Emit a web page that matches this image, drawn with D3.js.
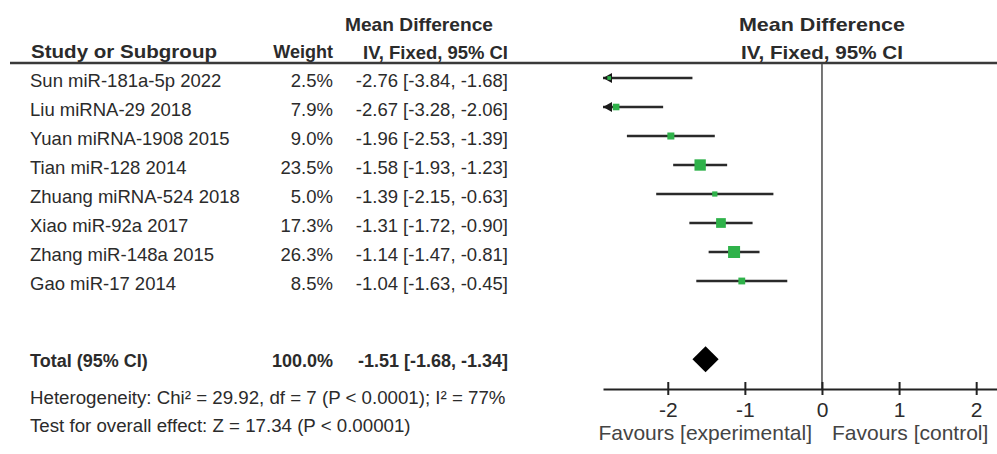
<!DOCTYPE html>
<html>
<head>
<meta charset="utf-8">
<script src="https://cdn.jsdelivr.net/npm/d3@7"></script>
<style>
  body { margin: 0; background: #fff; }
  text { font-family: "Liberation Sans", Arial, sans-serif; fill: #2b2b2b; }
</style>
</head>
<body>
<script>
// study data
var studies = ["Sun miR-181a-5p 2022", "Liu miRNA-29 2018", "Yuan miRNA-1908 2015", "Tian miR-128 2014",
               "Zhuang miRNA-524 2018", "Xiao miR-92a 2017", "Zhang miR-148a 2015", "Gao miR-17 2014"];
var weights = [2.5, 7.9, 9.0, 23.5, 5.0, 17.3, 26.3, 8.5];
var meanDiff = [-2.76, -2.67, -1.96, -1.58, -1.39, -1.31, -1.14, -1.04];
var lower = [-3.84, -3.28, -2.53, -1.93, -2.15, -1.72, -1.47, -1.63];
var upper = [-1.68, -2.06, -1.39, -1.23, -0.63, -0.90, -0.81, -0.45];
var totalEst = [-1.51, -1.68, -1.34]; // md, lower, upper
var xTicks = [-2, -1, 0, 1, 2];

var width = 997, height = 454;

var svg = d3.select("body").append("svg")
    .attr("width", width)
    .attr("height", height);

// scales
var x = d3.scaleLinear().domain([-2.84, 2.27]).range([603, 997]);
var y = d3.scaleLinear().domain([0, 7]).range([78, 281]);
var size = d3.scaleSqrt().domain([0, 26.3]).range([0, 12]);
var totalY = y(9.7);
var axisY = 389;

// plain hyphen, not the unicode minus d3.format gives
function fmt(v) { return v.toFixed(2); }

// headers
var head = svg.append("g").style("font-weight", "bold").style("font-size", "19px");
head.append("text").attr("x", 31).attr("y", 58)
    .attr("textLength", 186).attr("lengthAdjust", "spacingAndGlyphs").text("Study or Subgroup");
head.append("text").attr("x", 333).attr("y", 58).attr("text-anchor", "end")
    .style("font-size", "18px").text("Weight");
head.append("text").attr("x", 345).attr("y", 31)
    .attr("textLength", 148).attr("lengthAdjust", "spacingAndGlyphs").text("Mean Difference");
head.append("text").attr("x", 363).attr("y", 59)
    .attr("textLength", 145).attr("lengthAdjust", "spacingAndGlyphs").text("IV, Fixed, 95% CI");
head.append("text").attr("x", x(0) - 83).attr("y", 31)
    .attr("textLength", 166).attr("lengthAdjust", "spacingAndGlyphs").text("Mean Difference");
head.append("text").attr("x", x(0) - 81).attr("y", 59)
    .attr("textLength", 162).attr("lengthAdjust", "spacingAndGlyphs").text("IV, Fixed, 95% CI");

svg.append("line")
    .attr("x1", 10).attr("x2", width)
    .attr("y1", 63).attr("y2", 63)
    .attr("stroke", "#3a3a3a").attr("stroke-width", 2.5);

// zero line
svg.append("line")
    .attr("x1", x(0)).attr("x2", x(0))
    .attr("y1", 64).attr("y2", axisY)
    .attr("stroke", "#555").attr("stroke-width", 1.6);

// study rows text
var rows = svg.selectAll("g.row")
  .data(studies)
  .enter()
    .append("g")
    .attr("class", "row")
    .style("font-size", "18.5px");

rows.append("text")
    .attr("x", 30)
    .attr("y", function(d, i) { return y(i) + 9; })
    .text(function(d) { return d; });
rows.append("text")
    .attr("x", 333).attr("text-anchor", "end")
    .attr("y", function(d, i) { return y(i) + 9; })
    .text(function(d, i) { return weights[i].toFixed(1) + "%"; });
rows.append("text")
    .attr("x", 508).attr("text-anchor", "end")
    .attr("y", function(d, i) { return y(i) + 9; })
    .text(function(d, i) { return fmt(meanDiff[i]) + " [" + fmt(lower[i]) + ", " + fmt(upper[i]) + "]"; });

// CI lines
var xMin = x.domain()[0];
rows.append("line")
    .attr("x1", function(d, i) { return x(Math.max(lower[i], xMin)); })
    .attr("x2", function(d, i) { return x(upper[i]); })
    .attr("y1", function(d, i) { return y(i); })
    .attr("y2", function(d, i) { return y(i); })
    .attr("stroke", "#2a2a2a").attr("stroke-width", 2.5);

// arrows where the CI runs off the axis
rows.filter(function(d, i) { return lower[i] < xMin; })
  .append("path")
    .attr("d", function(d) {
      var i = studies.indexOf(d), x0 = x(xMin), yy = y(i);
      return "M" + x0 + "," + yy + "L" + (x0 + 9) + "," + (yy - 5) + "L" + (x0 + 9) + "," + (yy + 5) + "Z";
    })
    .attr("fill", "#1a1a1a");

// weight squares
rows.append("rect")
    .attr("x", function(d, i) { return x(meanDiff[i]) - size(weights[i]) / 2; })
    .attr("y", function(d, i) { return y(i) - size(weights[i]) / 2; })
    .attr("width", function(d, i) { return size(weights[i]); })
    .attr("height", function(d, i) { return size(weights[i]); })
    .attr("fill", "#2fb24a");

// total row
var tot = svg.append("g").style("font-weight", "bold").style("font-size", "18px");
tot.append("text").attr("x", 30).attr("y", totalY + 8).text("Total (95% CI)");
tot.append("text").attr("x", 333).attr("y", totalY + 8).attr("text-anchor", "end").text("100.0%");
tot.append("text").attr("x", 508).attr("y", totalY + 8).attr("text-anchor", "end")
    .text(fmt(totalEst[0]) + " [" + fmt(totalEst[1]) + ", " + fmt(totalEst[2]) + "]");

svg.append("path")
    .attr("d", "M" + x(totalEst[1]) + "," + totalY +
               "L" + x(totalEst[0]) + "," + (totalY - 13) +
               "L" + x(totalEst[2]) + "," + totalY +
               "L" + x(totalEst[0]) + "," + (totalY + 13) + "Z")
    .attr("fill", "#000");

// footnotes
var foot = svg.append("g").style("font-size", "18.7px");
foot.append("text").attr("x", 30).attr("y", 404)
    .text("Heterogeneity: Chi² = 29.92, df = 7 (P < 0.0001); I² = 77%");
foot.append("text").attr("x", 30).attr("y", 432)
    .text("Test for overall effect: Z = 17.34 (P < 0.00001)");

// x axis
var axis = svg.append("g")
    .attr("transform", "translate(0," + axisY + ")")
    .call(d3.axisBottom(x).tickValues(xTicks).tickSizeOuter(0).tickFormat(function(d) { return String(d); }));
axis.select(".domain").attr("stroke", "#222").attr("stroke-width", 2);
axis.selectAll(".tick line").attr("y1", -7).attr("y2", 6).attr("stroke", "#222").attr("stroke-width", 2);
axis.selectAll(".tick text")
    .attr("y", 28).attr("dy", 0)
    .style("font-size", "21px")
    .style("font-family", "\"Liberation Sans\", Arial, sans-serif")
    .attr("fill", "#333");

svg.append("text").attr("x", x(0) - 10).attr("y", 440).attr("text-anchor", "end")
    .style("font-size", "21px").style("fill", "#444").text("Favours [experimental]");
svg.append("text").attr("x", x(0) + 10).attr("y", 440)
    .style("font-size", "21px").style("fill", "#444").text("Favours [control]");
</script>
</body>
</html>
